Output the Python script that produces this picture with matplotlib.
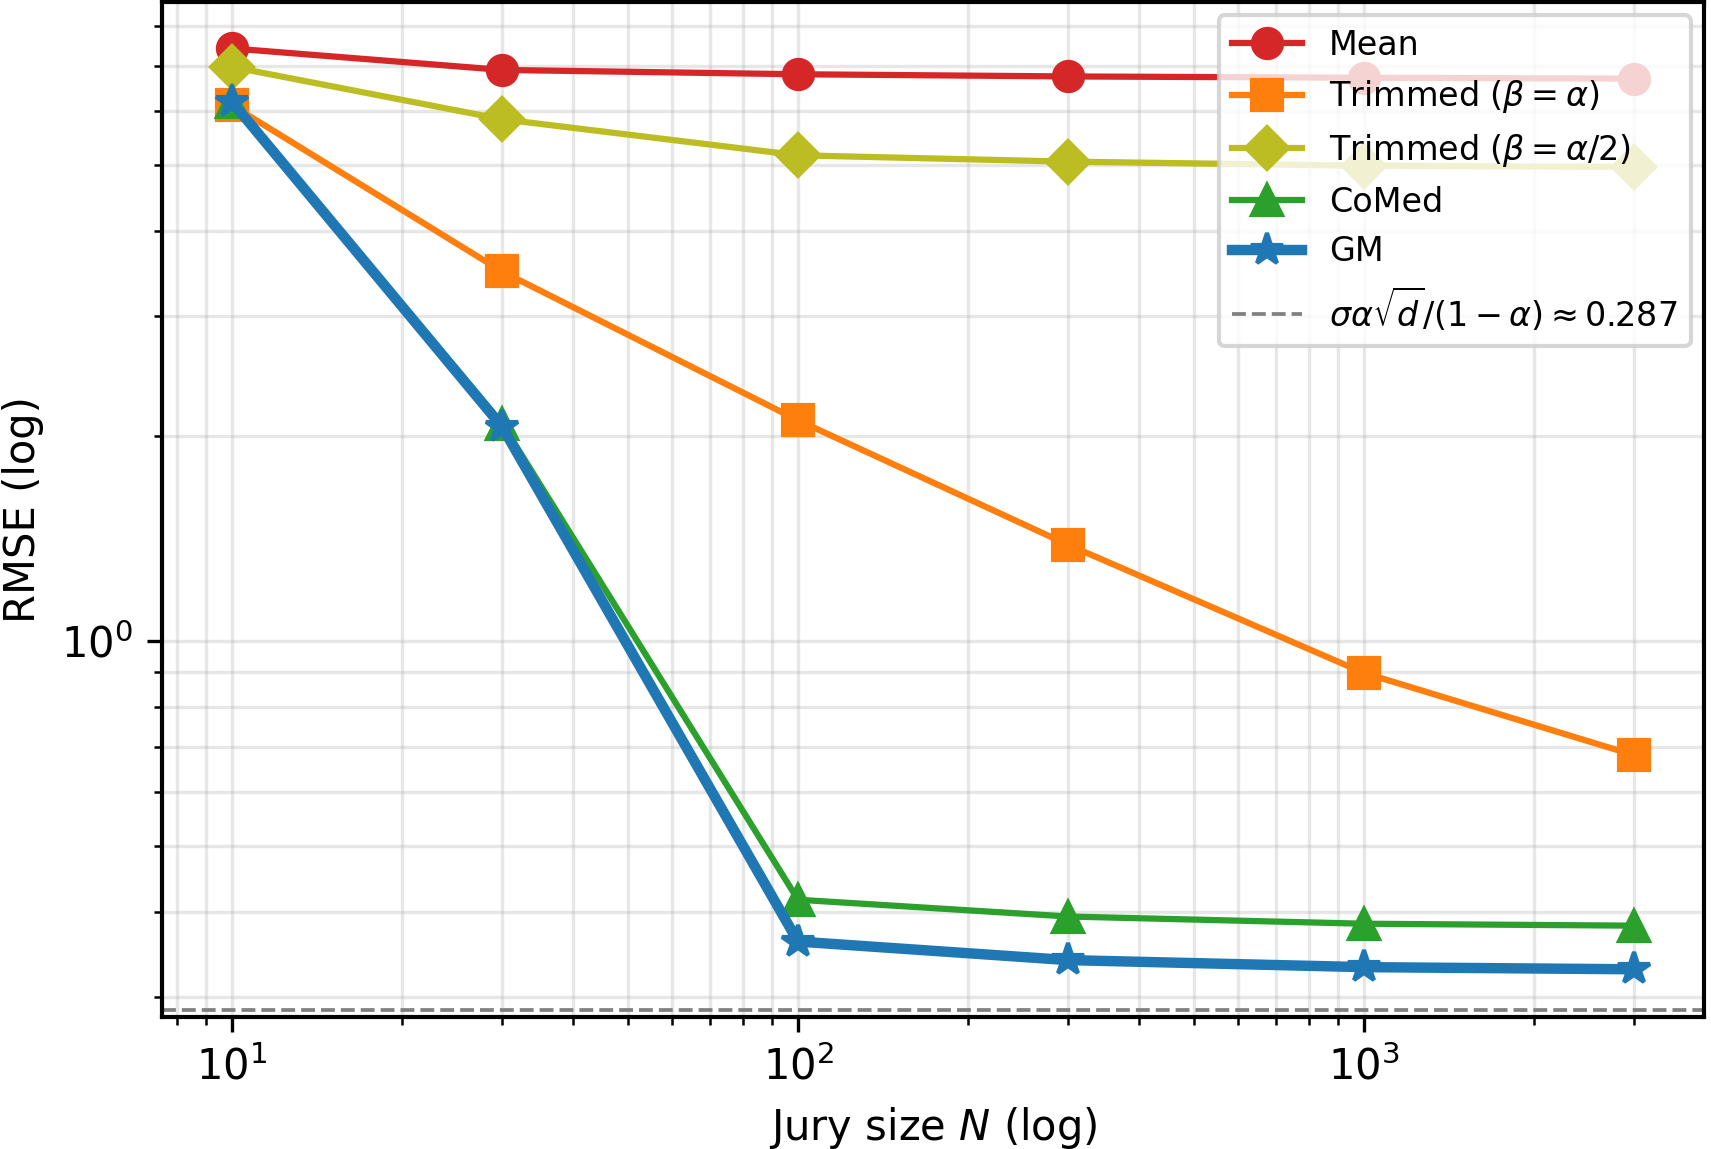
import numpy as np
import matplotlib
matplotlib.use("Agg")
import matplotlib.pyplot as plt

# jury sizes and RMSE
jury_sizes = [10, 30, 100, 300, 1000, 3000]
rmse_mean = [7.42, 6.90, 6.80, 6.75, 6.72, 6.70]
rmse_trim_a = [6.12, 3.49, 2.11, 1.385, 0.898, 0.680]
rmse_trim_a2 = [6.97, 5.84, 5.17, 5.06, 4.99, 4.97]
rmse_comed = [6.20, 2.087, 0.417, 0.394, 0.3845, 0.382]
rmse_gm = [6.19, 2.064, 0.362, 0.340, 0.332, 0.3296]
floor_value = 0.287

plt.rcParams['axes.linewidth'] = 1.0

fig = plt.figure(figsize=(1711 / 300, 1149 / 300), dpi=300)
ax = fig.add_axes([0.0947, 0.1149, 0.9012, 0.8833])

ax.plot(jury_sizes, rmse_mean, marker='o', color='#d62728', lw=1.5, ms=7, label='Mean')
ax.plot(jury_sizes, rmse_trim_a, marker='s', color='#ff7f0e', lw=1.5, ms=7,
        label=r'Trimmed ($\beta=\alpha$)')
ax.plot(jury_sizes, rmse_trim_a2, marker='D', color='#bcbd22', lw=1.5, ms=7,
        label=r'Trimmed ($\beta=\alpha/2$)')
ax.plot(jury_sizes, rmse_comed, marker='^', color='#2ca02c', lw=1.5, ms=7, label='CoMed')
ax.plot(jury_sizes, rmse_gm, marker='*', color='#1f77b4', lw=2.5, ms=8, label='GM')
ax.axhline(floor_value, ls='--', color='gray', lw=0.9,
           label=r'$\sigma\alpha\sqrt{d}/(1-\alpha)\approx 0.287$')

ax.set_xscale('log')
ax.set_yscale('log')
ax.set_ylim(0.2805, 8.68)
ax.grid(True, which='both', alpha=0.3)

ax.set_xlabel(r'Jury size $N$ (log)', fontsize=10)
ax.set_ylabel('RMSE (log)', fontsize=10)
ax.tick_params(labelsize=10)
ax.legend(loc='upper right', fontsize=8, handlelength=2.1, borderaxespad=0.4)

fig.savefig('out.png', dpi=300)
